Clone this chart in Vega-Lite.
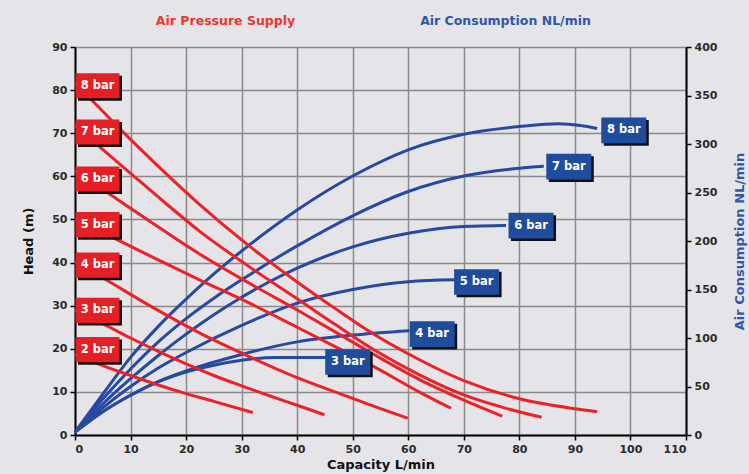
{
  "$schema": "https://vega.github.io/schema/vega-lite/v6.json",
  "width": 611,
  "height": 388,
  "autosize": {"type": "none"},
  "padding": {"left": 75, "top": 47, "right": 63, "bottom": 39},
  "background": "#e5e5e9",
  "view": {"stroke": null},
  "config": {
    "axis": {
      "labelFont": "DejaVu Sans",
      "labelFontSize": 11,
      "labelFontWeight": "bold",
      "labelColor": "#2a2a2a",
      "titleFont": "DejaVu Sans",
      "titleFontSize": 13,
      "titleFontWeight": "bold",
      "titleColor": "#111111",
      "domainColor": "#000000",
      "domainWidth": 2,
      "tickColor": "#000000",
      "tickWidth": 1.5,
      "tickSize": 5,
      "gridColor": "#8a8a8a",
      "gridWidth": 1.5,
      "gridOpacity": 1
    }
  },
  "datasets": {
    "red": [
      {"s": "8 bar", "cap": 0, "head": 81.6}, {"s": "8 bar", "cap": 3, "head": 77.7}, {"s": "8 bar", "cap": 8.4, "head": 70.6}, {"s": "8 bar", "cap": 15, "head": 62.3}, {"s": "8 bar", "cap": 22.4, "head": 53.5}, {"s": "8 bar", "cap": 31.4, "head": 43.8}, {"s": "8 bar", "cap": 40, "head": 35.5}, {"s": "8 bar", "cap": 47, "head": 29.2}, {"s": "8 bar", "cap": 53.9, "head": 23.3}, {"s": "8 bar", "cap": 62.1, "head": 17.4}, {"s": "8 bar", "cap": 70, "head": 12.6}, {"s": "8 bar", "cap": 80, "head": 8.4}, {"s": "8 bar", "cap": 90, "head": 6.1}, {"s": "8 bar", "cap": 94, "head": 5.4},
      {"s": "7 bar", "cap": 0, "head": 71.8}, {"s": "7 bar", "cap": 4.4, "head": 66.9}, {"s": "7 bar", "cap": 10, "head": 60.7}, {"s": "7 bar", "cap": 16, "head": 54.1}, {"s": "7 bar", "cap": 22.4, "head": 47.3}, {"s": "7 bar", "cap": 31.4, "head": 39}, {"s": "7 bar", "cap": 40, "head": 31.6}, {"s": "7 bar", "cap": 47, "head": 25.5}, {"s": "7 bar", "cap": 53.9, "head": 19.7}, {"s": "7 bar", "cap": 62.1, "head": 13.9}, {"s": "7 bar", "cap": 70, "head": 9.3}, {"s": "7 bar", "cap": 77, "head": 6.4}, {"s": "7 bar", "cap": 84, "head": 4.1},
      {"s": "6 bar", "cap": 0, "head": 61.2}, {"s": "6 bar", "cap": 6, "head": 56.1}, {"s": "6 bar", "cap": 14, "head": 49.1}, {"s": "6 bar", "cap": 22.4, "head": 42}, {"s": "6 bar", "cap": 31.4, "head": 35.2}, {"s": "6 bar", "cap": 40, "head": 29}, {"s": "6 bar", "cap": 47, "head": 23.8}, {"s": "6 bar", "cap": 53.9, "head": 18.6}, {"s": "6 bar", "cap": 62.1, "head": 12.8}, {"s": "6 bar", "cap": 70, "head": 8.1}, {"s": "6 bar", "cap": 76.9, "head": 4.4},
      {"s": "5 bar", "cap": 0, "head": 50.1}, {"s": "5 bar", "cap": 7.1, "head": 45.6}, {"s": "5 bar", "cap": 15, "head": 40.6}, {"s": "5 bar", "cap": 22.4, "head": 36}, {"s": "5 bar", "cap": 31.4, "head": 30.6}, {"s": "5 bar", "cap": 40, "head": 25}, {"s": "5 bar", "cap": 47, "head": 20.4}, {"s": "5 bar", "cap": 53.9, "head": 15.8}, {"s": "5 bar", "cap": 62.1, "head": 9.9}, {"s": "5 bar", "cap": 67.7, "head": 6.2},
      {"s": "4 bar", "cap": 0, "head": 40.2}, {"s": "4 bar", "cap": 5.6, "head": 36}, {"s": "4 bar", "cap": 14, "head": 29.6}, {"s": "4 bar", "cap": 22.4, "head": 23.7}, {"s": "4 bar", "cap": 30, "head": 19}, {"s": "4 bar", "cap": 40, "head": 13.3}, {"s": "4 bar", "cap": 50, "head": 8.5}, {"s": "4 bar", "cap": 55, "head": 6.1}, {"s": "4 bar", "cap": 59.9, "head": 3.9},
      {"s": "3 bar", "cap": 0, "head": 29}, {"s": "3 bar", "cap": 5, "head": 25.8}, {"s": "3 bar", "cap": 10, "head": 22.5}, {"s": "3 bar", "cap": 15, "head": 19.4}, {"s": "3 bar", "cap": 20, "head": 16.5}, {"s": "3 bar", "cap": 25, "head": 13.8}, {"s": "3 bar", "cap": 30, "head": 11.4}, {"s": "3 bar", "cap": 35, "head": 9.1}, {"s": "3 bar", "cap": 40, "head": 6.9}, {"s": "3 bar", "cap": 44.9, "head": 4.7},
      {"s": "2 bar", "cap": 0, "head": 18.6}, {"s": "2 bar", "cap": 5, "head": 16.1}, {"s": "2 bar", "cap": 10, "head": 13.8}, {"s": "2 bar", "cap": 15, "head": 11.6}, {"s": "2 bar", "cap": 20, "head": 9.6}, {"s": "2 bar", "cap": 25, "head": 7.8}, {"s": "2 bar", "cap": 32, "head": 5.2}
    ],
    "blue": [
      {"s": "8 bar", "cap": 0, "air": 3}, {"s": "8 bar", "cap": 5, "air": 42}, {"s": "8 bar", "cap": 10, "air": 80}, {"s": "8 bar", "cap": 15, "air": 112}, {"s": "8 bar", "cap": 20, "air": 140}, {"s": "8 bar", "cap": 25, "air": 166}, {"s": "8 bar", "cap": 31.4, "air": 196}, {"s": "8 bar", "cap": 40, "air": 232}, {"s": "8 bar", "cap": 50, "air": 267}, {"s": "8 bar", "cap": 60, "air": 294}, {"s": "8 bar", "cap": 70, "air": 310}, {"s": "8 bar", "cap": 80, "air": 318}, {"s": "8 bar", "cap": 87, "air": 321}, {"s": "8 bar", "cap": 91, "air": 319}, {"s": "8 bar", "cap": 94, "air": 316},
      {"s": "7 bar", "cap": 0, "air": 3}, {"s": "7 bar", "cap": 5, "air": 37}, {"s": "7 bar", "cap": 10, "air": 68}, {"s": "7 bar", "cap": 15, "air": 96}, {"s": "7 bar", "cap": 20, "air": 120}, {"s": "7 bar", "cap": 25, "air": 141}, {"s": "7 bar", "cap": 30, "air": 160}, {"s": "7 bar", "cap": 40, "air": 195}, {"s": "7 bar", "cap": 50, "air": 226}, {"s": "7 bar", "cap": 60, "air": 251}, {"s": "7 bar", "cap": 70, "air": 267}, {"s": "7 bar", "cap": 80, "air": 275}, {"s": "7 bar", "cap": 84.4, "air": 277},
      {"s": "6 bar", "cap": 0, "air": 3}, {"s": "6 bar", "cap": 5, "air": 32}, {"s": "6 bar", "cap": 10, "air": 58}, {"s": "6 bar", "cap": 15, "air": 82}, {"s": "6 bar", "cap": 20, "air": 104}, {"s": "6 bar", "cap": 25, "air": 124}, {"s": "6 bar", "cap": 30, "air": 142}, {"s": "6 bar", "cap": 35, "air": 158}, {"s": "6 bar", "cap": 40, "air": 172}, {"s": "6 bar", "cap": 50, "air": 194}, {"s": "6 bar", "cap": 60, "air": 208}, {"s": "6 bar", "cap": 70, "air": 215}, {"s": "6 bar", "cap": 77.6, "air": 216},
      {"s": "5 bar", "cap": 0, "air": 3}, {"s": "5 bar", "cap": 5, "air": 28}, {"s": "5 bar", "cap": 10, "air": 50}, {"s": "5 bar", "cap": 15, "air": 69}, {"s": "5 bar", "cap": 20, "air": 85}, {"s": "5 bar", "cap": 30, "air": 113}, {"s": "5 bar", "cap": 40, "air": 136}, {"s": "5 bar", "cap": 50, "air": 150}, {"s": "5 bar", "cap": 60, "air": 158}, {"s": "5 bar", "cap": 68.3, "air": 160},
      {"s": "4 bar", "cap": 0, "air": 3}, {"s": "4 bar", "cap": 5, "air": 24}, {"s": "4 bar", "cap": 10, "air": 41}, {"s": "4 bar", "cap": 15, "air": 55}, {"s": "4 bar", "cap": 20, "air": 66}, {"s": "4 bar", "cap": 30, "air": 83}, {"s": "4 bar", "cap": 40, "air": 96}, {"s": "4 bar", "cap": 50, "air": 103}, {"s": "4 bar", "cap": 60.2, "air": 107.5},
      {"s": "3 bar", "cap": 0, "air": 3}, {"s": "3 bar", "cap": 5, "air": 24}, {"s": "3 bar", "cap": 10, "air": 41}, {"s": "3 bar", "cap": 15, "air": 55}, {"s": "3 bar", "cap": 20, "air": 65}, {"s": "3 bar", "cap": 25, "air": 72}, {"s": "3 bar", "cap": 30, "air": 77}, {"s": "3 bar", "cap": 36, "air": 80}, {"s": "3 bar", "cap": 45.2, "air": 80}
    ],
    "redLabels": [
      {"label": "8 bar", "cap": 4.05, "head": 81},
      {"label": "7 bar", "cap": 4.05, "head": 70.3},
      {"label": "6 bar", "cap": 4.05, "head": 59.4},
      {"label": "5 bar", "cap": 4.05, "head": 48.8},
      {"label": "4 bar", "cap": 4.05, "head": 39.4},
      {"label": "3 bar", "cap": 4.05, "head": 28.9},
      {"label": "2 bar", "cap": 4.05, "head": 19.8}
    ],
    "blueLabels": [
      {"label": "8 bar", "cap": 98.8, "air": 314},
      {"label": "7 bar", "cap": 88.9, "air": 276.6},
      {"label": "6 bar", "cap": 82.1, "air": 215.8},
      {"label": "5 bar", "cap": 72.3, "air": 157.7},
      {"label": "4 bar", "cap": 64.3, "air": 104},
      {"label": "3 bar", "cap": 49.1, "air": 75.3}
    ]
  },
  "layer": [
    {
      "data": {"name": "blue"},
      "mark": {"type": "line", "color": "#2649a1", "strokeWidth": 3, "interpolate": "monotone"},
      "encoding": {
        "x": {"field": "cap", "type": "quantitative", "scale": {"domain": [0, 110], "nice": false}, "axis": null},
        "y": {"field": "air", "type": "quantitative", "scale": {"domain": [0, 400], "nice": false},
          "axis": {"orient": "right", "values": [0, 50, 100, 150, 200, 250, 300, 350, 400], "grid": false, "title": "Air Consumption NL/min", "titleColor": "#3256a8", "titleAngle": -90, "titlePadding": 30, "labelPadding": 3}},
        "detail": {"field": "s", "type": "nominal"}
      }
    },
    {
      "data": {"name": "red"},
      "mark": {"type": "line", "color": "#ec2228", "strokeWidth": 3, "interpolate": "monotone"},
      "encoding": {
        "x": {"field": "cap", "type": "quantitative", "scale": {"domain": [0, 110], "nice": false},
          "axis": {"orient": "bottom", "values": [0, 10, 20, 30, 40, 50, 60, 70, 80, 90, 100, 110], "grid": true, "title": "Capacity L/min", "titlePadding": 4, "labelPadding": 3}},
        "y": {"field": "head", "type": "quantitative", "scale": {"domain": [0, 90], "nice": false},
          "axis": {"orient": "left", "values": [0, 10, 20, 30, 40, 50, 60, 70, 80, 90], "grid": true, "title": "Head (m)", "titlePadding": 16, "labelPadding": 3}},
        "detail": {"field": "s", "type": "nominal"}
      }
    },
    {
      "data": {"name": "redLabels"},
      "mark": {"type": "point", "shape": "M-1,-0.57H1V0.57H-1Z", "size": 1936, "filled": true, "opacity": 1, "color": "#111111", "xOffset": 2.5, "yOffset": 2.5},
      "encoding": {
        "x": {"field": "cap", "type": "quantitative", "scale": {"domain": [0, 110], "nice": false}, "axis": null},
        "y": {"field": "head", "type": "quantitative", "scale": {"domain": [0, 90], "nice": false}, "axis": null}
      }
    },
    {
      "data": {"name": "redLabels"},
      "mark": {"type": "point", "shape": "M-1,-0.57H1V0.57H-1Z", "size": 1936, "filled": true, "opacity": 1, "color": "#e41f26"},
      "encoding": {
        "x": {"field": "cap", "type": "quantitative", "scale": {"domain": [0, 110], "nice": false}, "axis": null},
        "y": {"field": "head", "type": "quantitative", "scale": {"domain": [0, 90], "nice": false}, "axis": null}
      }
    },
    {
      "data": {"name": "redLabels"},
      "mark": {"type": "text", "color": "#ffffff", "font": "DejaVu Sans", "fontWeight": "bold", "fontSize": 11.5, "align": "center", "baseline": "middle"},
      "encoding": {
        "x": {"field": "cap", "type": "quantitative", "scale": {"domain": [0, 110], "nice": false},
          "axis": {"orient": "top", "labels": false, "ticks": false, "domain": false, "grid": false, "title": "Air Pressure Supply", "titleColor": "#ee3530", "titleX": 150, "titleY": -27, "titleAlign": "center", "titleBaseline": "middle", "titleFontSize": 12.5}},
        "y": {"field": "head", "type": "quantitative", "scale": {"domain": [0, 90], "nice": false}, "axis": null},
        "text": {"field": "label", "type": "nominal"}
      }
    },
    {
      "data": {"name": "blueLabels"},
      "mark": {"type": "point", "shape": "M-1,-0.57H1V0.57H-1Z", "size": 2025, "filled": true, "opacity": 1, "color": "#111111", "xOffset": 2.5, "yOffset": 2.5},
      "encoding": {
        "x": {"field": "cap", "type": "quantitative", "scale": {"domain": [0, 110], "nice": false}, "axis": null},
        "y": {"field": "air", "type": "quantitative", "scale": {"domain": [0, 400], "nice": false}, "axis": null}
      }
    },
    {
      "data": {"name": "blueLabels"},
      "mark": {"type": "point", "shape": "M-1,-0.57H1V0.57H-1Z", "size": 2025, "filled": true, "opacity": 1, "color": "#1f4c9c"},
      "encoding": {
        "x": {"field": "cap", "type": "quantitative", "scale": {"domain": [0, 110], "nice": false}, "axis": null},
        "y": {"field": "air", "type": "quantitative", "scale": {"domain": [0, 400], "nice": false}, "axis": null}
      }
    },
    {
      "data": {"name": "blueLabels"},
      "mark": {"type": "text", "color": "#ffffff", "font": "DejaVu Sans", "fontWeight": "bold", "fontSize": 11.5, "align": "center", "baseline": "middle"},
      "encoding": {
        "x": {"field": "cap", "type": "quantitative", "scale": {"domain": [0, 110], "nice": false},
          "axis": {"orient": "top", "labels": false, "ticks": false, "domain": false, "grid": false, "title": "Air Consumption NL/min", "titleColor": "#3256a8", "titleX": 430, "titleY": -27, "titleAlign": "center", "titleBaseline": "middle", "titleFontSize": 12.5}},
        "y": {"field": "air", "type": "quantitative", "scale": {"domain": [0, 400], "nice": false}, "axis": null},
        "text": {"field": "label", "type": "nominal"}
      }
    }
  ],
  "resolve": {"scale": {"y": "independent"}, "axis": {"x": "independent", "y": "independent"}}
}
